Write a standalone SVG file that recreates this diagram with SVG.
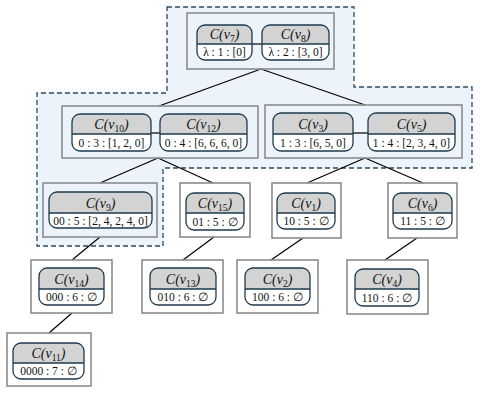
<svg xmlns="http://www.w3.org/2000/svg" width="481" height="417" viewBox="0 0 481 417">
<style>
.outer{fill:none;stroke:#8c8c8c;stroke-width:1.6}
.hd{fill:#d3d3d3}
.bd{fill:#fff}
.frame{fill:none;stroke:#1e3a4c;stroke-width:1.3}
.div{stroke:#1e3a4c;stroke-width:1.3}
.lbl{font-family:"Liberation Serif",serif;font-style:italic;font-size:14px;fill:#111;text-anchor:middle}
.body{font-family:"Liberation Serif",serif;font-size:11.5px;fill:#111;text-anchor:middle}
.sub{font-size:9.5px;font-style:normal}
.conn line{stroke:#000;stroke-width:1.2}
</style>
<path d="M167,7 H354 V87 H472 V168 H163 V246 H37 V93 H167 Z" fill="#edf3fa" stroke="#2b4a60" stroke-width="1.3" stroke-dasharray="5,3"/>
<g class="conn" id="connectors">
<line x1="261" y1="69" x2="159" y2="106"/>
<line x1="261" y1="69" x2="365" y2="105"/>
<line x1="158" y1="158" x2="100" y2="183"/>
<line x1="158" y1="158" x2="213" y2="183"/>
<line x1="365" y1="158" x2="307" y2="183"/>
<line x1="365" y1="158" x2="423" y2="183"/>
<line x1="100" y1="237" x2="72" y2="260"/>
<line x1="214" y1="237" x2="183" y2="260"/>
<line x1="303" y1="238" x2="271" y2="260"/>
<line x1="417" y1="238" x2="385" y2="260"/>
<line x1="72" y1="313" x2="49" y2="333"/>
<line x1="252" y1="44" x2="262" y2="44"/>
<line x1="151" y1="133" x2="160" y2="133"/>
<line x1="353" y1="133" x2="368" y2="133"/>
</g>
<g id="pair-top"><rect class="outer" x="187" y="13" width="147" height="56"/></g>
<g id="pair-left"><rect class="outer" x="62" y="106" width="196" height="52"/></g>
<g id="pair-right"><rect class="outer" x="265" y="105" width="197" height="53"/></g>
<g id="box-v9"><rect class="outer" x="43" y="183" width="114" height="54"/></g>
<g id="box-v15"><rect class="outer" x="180" y="183" width="70" height="54"/></g>
<g id="box-v1"><rect class="outer" x="272" y="183" width="69" height="55"/></g>
<g id="box-v6"><rect class="outer" x="388" y="183" width="69" height="55"/></g>
<g id="box-v14"><rect class="outer" x="31" y="260" width="81" height="53"/></g>
<g id="box-v13"><rect class="outer" x="142" y="260" width="81" height="53"/></g>
<g id="box-v2"><rect class="outer" x="237" y="260" width="81" height="53"/></g>
<g id="box-v4"><rect class="outer" x="347" y="260" width="81" height="54"/></g>
<g id="box-v11"><rect class="outer" x="7" y="333" width="84" height="53"/></g>

<g id="v7">
<path class="hd" d="M197,44 V33 a8,8 0 0 1 8,-8 H244 a8,8 0 0 1 8,8 V44 Z"/>
<path class="bd" d="M197,44 V52 a8,8 0 0 0 8,8 H244 a8,8 0 0 0 8,-8 V44 Z"/>
<rect class="frame" x="197" y="25" width="55" height="35" rx="8"/>
<line class="div" x1="197" y1="44" x2="252" y2="44"/>
<text class="lbl" x="224.5" y="39">C(v<tspan class="sub" dy="3">7</tspan><tspan dy="-3">)</tspan></text>
<text class="body" x="224.5" y="56">λ : 1 : [0]</text>
</g>
<g id="v8">
<path class="hd" d="M262,44 V33 a8,8 0 0 1 8,-8 H321 a8,8 0 0 1 8,8 V44 Z"/>
<path class="bd" d="M262,44 V52 a8,8 0 0 0 8,8 H321 a8,8 0 0 0 8,-8 V44 Z"/>
<rect class="frame" x="262" y="25" width="67" height="35" rx="8"/>
<line class="div" x1="262" y1="44" x2="329" y2="44"/>
<text class="lbl" x="295.5" y="39">C(v<tspan class="sub" dy="3">8</tspan><tspan dy="-3">)</tspan></text>
<text class="body" x="295.5" y="56">λ : 2 : [3, 0]</text>
</g>
<g id="v10">
<path class="hd" d="M72,134 V122 a8,8 0 0 1 8,-8 H143 a8,8 0 0 1 8,8 V134 Z"/>
<path class="bd" d="M72,134 V143 a8,8 0 0 0 8,8 H143 a8,8 0 0 0 8,-8 V134 Z"/>
<rect class="frame" x="72" y="114" width="79" height="37" rx="8"/>
<line class="div" x1="72" y1="134" x2="151" y2="134"/>
<text class="lbl" x="111.5" y="129">C(v<tspan class="sub" dy="3">10</tspan><tspan dy="-3">)</tspan></text>
<text class="body" x="111.5" y="147">0 : 3 : [1, 2, 0]</text>
</g>
<g id="v12">
<path class="hd" d="M160,134 V122 a8,8 0 0 1 8,-8 H239 a8,8 0 0 1 8,8 V134 Z"/>
<path class="bd" d="M160,134 V143 a8,8 0 0 0 8,8 H239 a8,8 0 0 0 8,-8 V134 Z"/>
<rect class="frame" x="160" y="114" width="87" height="37" rx="8"/>
<line class="div" x1="160" y1="134" x2="247" y2="134"/>
<text class="lbl" x="203.5" y="129">C(v<tspan class="sub" dy="3">12</tspan><tspan dy="-3">)</tspan></text>
<text class="body" x="203.5" y="147">0 : 4 : [6, 6, 6, 0]</text>
</g>
<g id="v3">
<path class="hd" d="M273,134 V121 a8,8 0 0 1 8,-8 H345 a8,8 0 0 1 8,8 V134 Z"/>
<path class="bd" d="M273,134 V143 a8,8 0 0 0 8,8 H345 a8,8 0 0 0 8,-8 V134 Z"/>
<rect class="frame" x="273" y="113" width="80" height="38" rx="8"/>
<line class="div" x1="273" y1="134" x2="353" y2="134"/>
<text class="lbl" x="313" y="129">C(v<tspan class="sub" dy="3">3</tspan><tspan dy="-3">)</tspan></text>
<text class="body" x="313" y="147">1 : 3 : [6, 5, 0]</text>
</g>
<g id="v5">
<path class="hd" d="M368,134 V121 a8,8 0 0 1 8,-8 H447 a8,8 0 0 1 8,8 V134 Z"/>
<path class="bd" d="M368,134 V143 a8,8 0 0 0 8,8 H447 a8,8 0 0 0 8,-8 V134 Z"/>
<rect class="frame" x="368" y="113" width="87" height="38" rx="8"/>
<line class="div" x1="368" y1="134" x2="455" y2="134"/>
<text class="lbl" x="411.5" y="129">C(v<tspan class="sub" dy="3">5</tspan><tspan dy="-3">)</tspan></text>
<text class="body" x="411.5" y="147">1 : 4 : [2, 3, 4, 0]</text>
</g>
<g id="v9">
<path class="hd" d="M49,213 V200 a8,8 0 0 1 8,-8 H144 a8,8 0 0 1 8,8 V213 Z"/>
<path class="bd" d="M49,213 V220 a8,8 0 0 0 8,8 H144 a8,8 0 0 0 8,-8 V213 Z"/>
<rect class="frame" x="49" y="192" width="103" height="36" rx="8"/>
<line class="div" x1="49" y1="213" x2="152" y2="213"/>
<text class="lbl" x="100.5" y="208">C(v<tspan class="sub" dy="3">9</tspan><tspan dy="-3">)</tspan></text>
<text class="body" x="100.5" y="225">00 : 5 : [2, 4, 2, 4, 0]</text>
</g>
<g id="v15">
<path class="hd" d="M186,213 V201 a8,8 0 0 1 8,-8 H236 a8,8 0 0 1 8,8 V213 Z"/>
<path class="bd" d="M186,213 V222 a8,8 0 0 0 8,8 H236 a8,8 0 0 0 8,-8 V213 Z"/>
<rect class="frame" x="186" y="193" width="58" height="37" rx="8"/>
<line class="div" x1="186" y1="213" x2="244" y2="213"/>
<text class="lbl" x="215" y="208">C(v<tspan class="sub" dy="3">15</tspan><tspan dy="-3">)</tspan></text>
<text class="body" x="215" y="226">01 : 5 : ∅</text>
</g>
<g id="v1">
<path class="hd" d="M277,213 V201 a8,8 0 0 1 8,-8 H327 a8,8 0 0 1 8,8 V213 Z"/>
<path class="bd" d="M277,213 V221 a8,8 0 0 0 8,8 H327 a8,8 0 0 0 8,-8 V213 Z"/>
<rect class="frame" x="277" y="193" width="58" height="36" rx="8"/>
<line class="div" x1="277" y1="213" x2="335" y2="213"/>
<text class="lbl" x="306" y="208">C(v<tspan class="sub" dy="3">1</tspan><tspan dy="-3">)</tspan></text>
<text class="body" x="306" y="225">10 : 5 : ∅</text>
</g>
<g id="v6">
<path class="hd" d="M393,213 V201 a8,8 0 0 1 8,-8 H444 a8,8 0 0 1 8,8 V213 Z"/>
<path class="bd" d="M393,213 V221 a8,8 0 0 0 8,8 H444 a8,8 0 0 0 8,-8 V213 Z"/>
<rect class="frame" x="393" y="193" width="59" height="36" rx="8"/>
<line class="div" x1="393" y1="213" x2="452" y2="213"/>
<text class="lbl" x="422.5" y="208">C(v<tspan class="sub" dy="3">6</tspan><tspan dy="-3">)</tspan></text>
<text class="body" x="422.5" y="225">11 : 5 : ∅</text>
</g>
<g id="v14">
<path class="hd" d="M39,289 V276 a8,8 0 0 1 8,-8 H96 a8,8 0 0 1 8,8 V289 Z"/>
<path class="bd" d="M39,289 V297 a8,8 0 0 0 8,8 H96 a8,8 0 0 0 8,-8 V289 Z"/>
<rect class="frame" x="39" y="268" width="65" height="37" rx="8"/>
<line class="div" x1="39" y1="289" x2="104" y2="289"/>
<text class="lbl" x="71.5" y="284">C(v<tspan class="sub" dy="3">14</tspan><tspan dy="-3">)</tspan></text>
<text class="body" x="71.5" y="301">000 : 6 : ∅</text>
</g>
<g id="v13">
<path class="hd" d="M150,289 V276 a8,8 0 0 1 8,-8 H208 a8,8 0 0 1 8,8 V289 Z"/>
<path class="bd" d="M150,289 V297 a8,8 0 0 0 8,8 H208 a8,8 0 0 0 8,-8 V289 Z"/>
<rect class="frame" x="150" y="268" width="66" height="37" rx="8"/>
<line class="div" x1="150" y1="289" x2="216" y2="289"/>
<text class="lbl" x="183" y="284">C(v<tspan class="sub" dy="3">13</tspan><tspan dy="-3">)</tspan></text>
<text class="body" x="183" y="301">010 : 6 : ∅</text>
</g>
<g id="v2">
<path class="hd" d="M245,289 V276 a8,8 0 0 1 8,-8 H302 a8,8 0 0 1 8,8 V289 Z"/>
<path class="bd" d="M245,289 V297 a8,8 0 0 0 8,8 H302 a8,8 0 0 0 8,-8 V289 Z"/>
<rect class="frame" x="245" y="268" width="65" height="37" rx="8"/>
<line class="div" x1="245" y1="289" x2="310" y2="289"/>
<text class="lbl" x="277.5" y="284">C(v<tspan class="sub" dy="3">2</tspan><tspan dy="-3">)</tspan></text>
<text class="body" x="277.5" y="301">100 : 6 : ∅</text>
</g>
<g id="v4">
<path class="hd" d="M355,289 V277 a8,8 0 0 1 8,-8 H411 a8,8 0 0 1 8,8 V289 Z"/>
<path class="bd" d="M355,289 V298 a8,8 0 0 0 8,8 H411 a8,8 0 0 0 8,-8 V289 Z"/>
<rect class="frame" x="355" y="269" width="64" height="37" rx="8"/>
<line class="div" x1="355" y1="289" x2="419" y2="289"/>
<text class="lbl" x="387" y="284">C(v<tspan class="sub" dy="3">4</tspan><tspan dy="-3">)</tspan></text>
<text class="body" x="387" y="302">110 : 6 : ∅</text>
</g>
<g id="v11">
<path class="hd" d="M13,363 V351 a8,8 0 0 1 8,-8 H76 a8,8 0 0 1 8,8 V363 Z"/>
<path class="bd" d="M13,363 V371 a8,8 0 0 0 8,8 H76 a8,8 0 0 0 8,-8 V363 Z"/>
<rect class="frame" x="13" y="343" width="71" height="36" rx="8"/>
<line class="div" x1="13" y1="363" x2="84" y2="363"/>
<text class="lbl" x="48.5" y="358">C(v<tspan class="sub" dy="3">11</tspan><tspan dy="-3">)</tspan></text>
<text class="body" x="48.5" y="375">0000 : 7 : ∅</text>
</g>
</svg>
